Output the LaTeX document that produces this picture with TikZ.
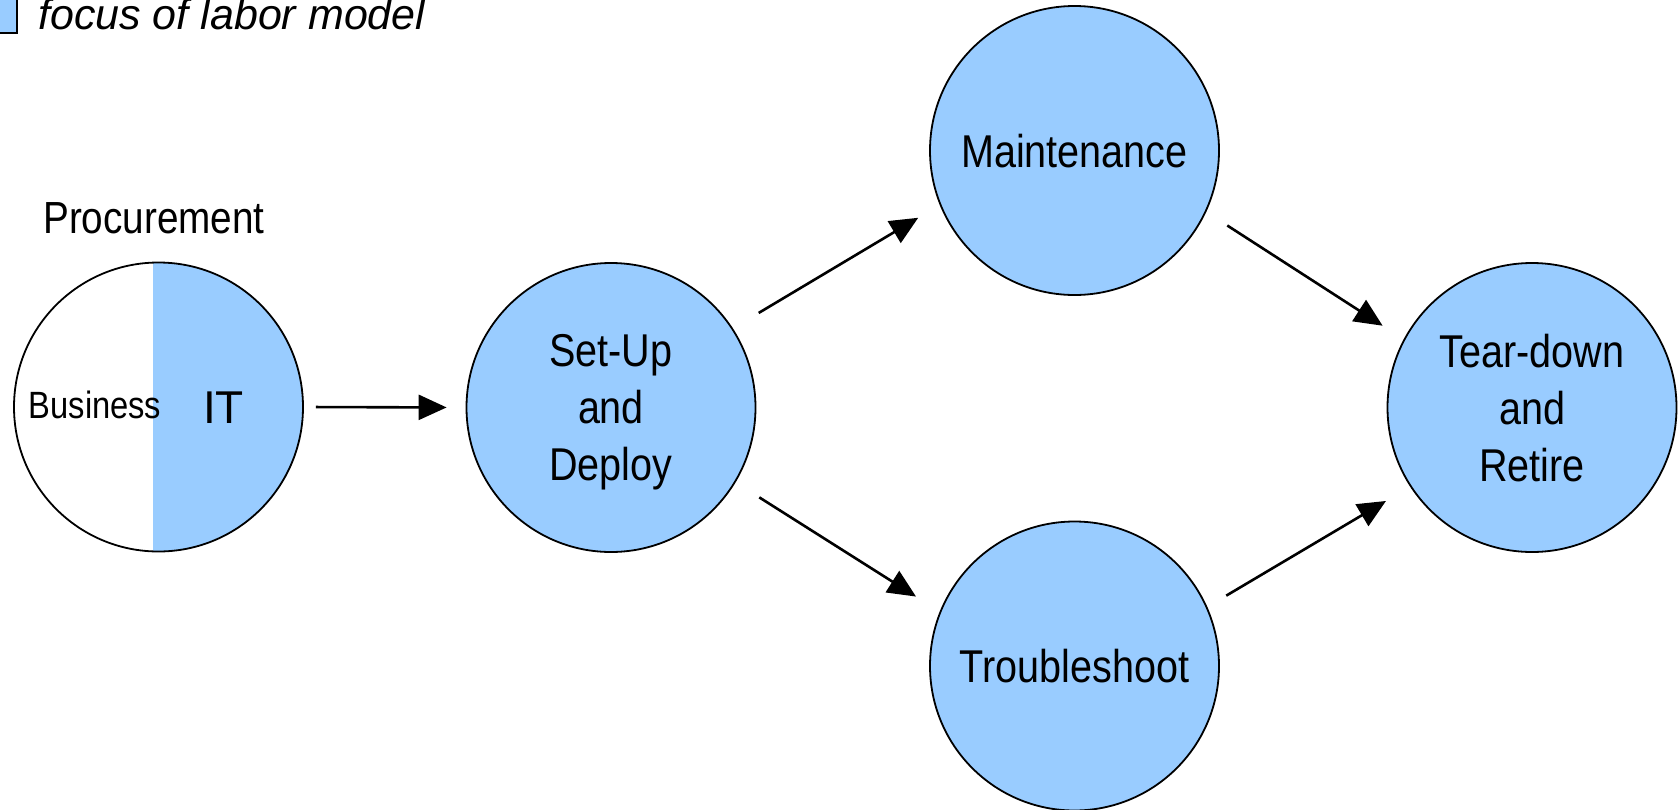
\documentclass[tikz,border=0pt]{standalone}
\usepackage{fontspec}
\setmainfont{Liberation Sans}
\newfontfamily\narrowsf{Liberation Sans}[FakeStretch=0.86]
\usetikzlibrary{arrows.meta}
\definecolor{focusblue}{RGB}{153,204,255}
\tikzset{
  stage/.style={circle, draw=black, line width=1.8pt, fill=focusblue,
    minimum size=289pt, inner sep=0pt, align=center, text depth=0pt,
    font=\narrowsf\fontsize{46}{57}\selectfont},
  flow/.style={line width=2.6pt, -{Triangle[length=28pt,width=25pt]}},
  caption/.style={inner sep=0pt, anchor=base, font=\narrowsf\fontsize{45}{54}\selectfont},
}
\begin{document}
\begin{tikzpicture}[x=1pt,y=-1pt]
\useasboundingbox (0,0) rectangle (1679,809);

% legend
\node[draw=black, line width=1.3pt, fill=focusblue, inner sep=0pt,
      minimum width=33pt, minimum height=35pt] (legendkey) at (0.5,15.5) {};
\node[inner sep=0pt, anchor=base west, font=\itshape\fontsize{43}{50}\selectfont]
      (legendtext) at (38,29) {focus of labor model};

% procurement: shared between business and IT
\node[caption] (proclabel) at (154,233) {Procurement};
\node[circle, draw=black, line width=1.8pt, fill=white, minimum size=289pt, inner sep=0pt,
      path picture={\fill[focusblue] ([xshift=-5.5pt]path picture bounding box.north)
        rectangle (path picture bounding box.south east);}]
      (proc) at (158.5,407) {};
\node[caption, font=\narrowsf\fontsize{38}{46}\selectfont] (business) at (95,418) {Business};
\node[inner sep=0pt, anchor=base, font=\fontsize{46}{55}\selectfont] (it) at (223.5,423) {IT};

% lifecycle stages
\node[stage] (setup)   at (611,407.5)   {Set-Up\\and\\Deploy};
\node[stage] (maint)   at (1074.5,150.5) {Maintenance};
\node[stage] (trouble) at (1074.5,666)   {Troubleshoot};
\node[stage] (tear)    at (1532,407.5)   {Tear-down\\and\\Retire};

% transitions
\draw[flow, shorten <=12pt, shorten >=19pt] (proc.east) -- (setup.west);
\draw[flow, shorten <=30pt, shorten >=25pt] (setup.33) -- (maint.202);
\draw[flow, shorten <=28pt, shorten >=28pt] (setup.-31) -- (trouble.158);
\draw[flow, shorten <=25pt, shorten >=25pt] (maint.-25) -- (tear.152);
\draw[flow, shorten <=22pt, shorten >=28pt] (trouble.24) -- (tear.213);
\end{tikzpicture}
\end{document}
